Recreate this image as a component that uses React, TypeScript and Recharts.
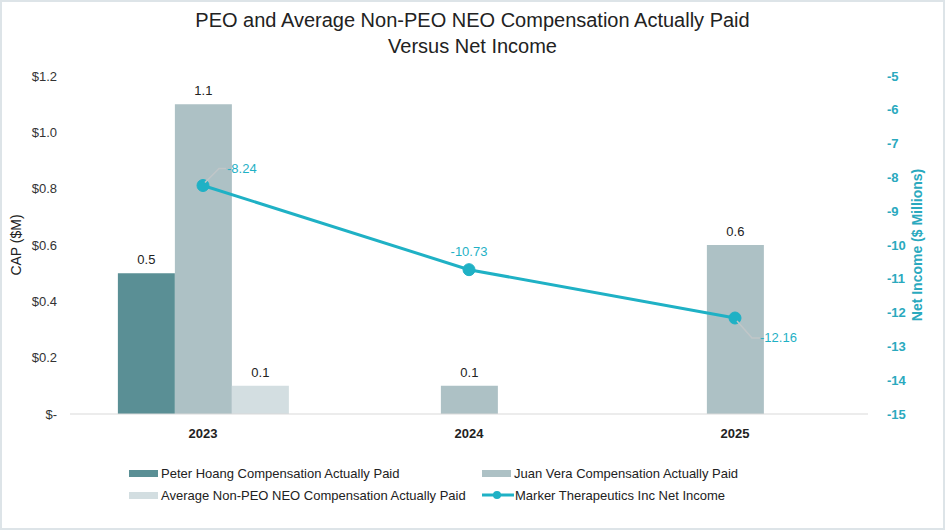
import React from "react";
import {
  ComposedChart,
  Bar,
  Line,
  XAxis,
  YAxis,
  LabelList,
  Legend,
} from "recharts";

const years = ["2023", "2024", "2025"];
const peterHoang = [0.5, null, null];
const juanVera = [1.1, 0.1, 0.6];
const avgNonPeo = [0.1, null, null];
const netIncome = [-8.24, -10.73, -12.16];
const leftTicks = [0, 0.2, 0.4, 0.6, 0.8, 1.0, 1.2];
const rightTicks = [-15, -14, -13, -12, -11, -10, -9, -8, -7, -6, -5];

const seriesNames = {
  peter: "Peter Hoang Compensation Actually Paid",
  juan: "Juan Vera Compensation Actually Paid",
  avg: "Average Non-PEO NEO Compensation Actually Paid",
  net: "Marker Therapeutics Inc Net Income",
};

const COLORS = {
  peter: "#5a8f95",
  juan: "#adc1c5",
  avg: "#d3dee1",
  net: "#1fb1c5",
  text: "#222222",
};

const data = years.map((y, i) => ({
  year: y,
  peter: peterHoang[i],
  juan: juanVera[i],
  avg: avgNonPeo[i],
  net: netIncome[i],
}));

// label placement style for the net income labels (leader lines)
const netLabelStyle = ["leaderUp", "above", "leaderDown"];

const FONT = "'Liberation Sans', Arial, Helvetica, sans-serif";

const fmtLeft = (v: number) => (v === 0 ? "$-" : `$${v.toFixed(1)}`);

const NetLabel = (props: any) => {
  const { x, y, value, index } = props;
  const style = netLabelStyle[index];
  const txt = value.toFixed(2);
  if (style === "above") {
    return (
      <text x={x} y={y - 14} textAnchor="middle" fill={COLORS.net} fontSize={13} fontFamily={FONT}>
        {txt}
      </text>
    );
  }
  if (style === "leaderUp") {
    return (
      <g>
        <polyline
          points={`${x + 2},${y - 3} ${x + 16},${y - 17} ${x + 23},${y - 17}`}
          fill="none"
          stroke="#c0c6c8"
          strokeWidth={1.5}
        />
        <text x={x + 24} y={y - 13} textAnchor="start" fill={COLORS.net} fontSize={13} fontFamily={FONT}>
          {txt}
        </text>
      </g>
    );
  }
  return (
    <g>
      <polyline
        points={`${x + 2},${y + 3} ${x + 17},${y + 20} ${x + 25},${y + 20}`}
        fill="none"
        stroke="#c0c6c8"
        strokeWidth={1.5}
      />
      <text x={x + 25} y={y + 24} textAnchor="start" fill={COLORS.net} fontSize={13} fontFamily={FONT}>
        {txt}
      </text>
    </g>
  );
};

const legendItems = [
  { key: "peter", type: "bar" },
  { key: "juan", type: "bar" },
  { key: "avg", type: "bar" },
  { key: "net", type: "line" },
];

const LegendContent = () => (
  <div
    style={{
      display: "grid",
      gridTemplateColumns: "353px 320px",
      rowGap: 6,
      fontFamily: FONT,
      fontSize: 13,
      color: COLORS.text,
      marginLeft: 129,
    }}
  >
    {legendItems.map((it) => {
      const k = it.key as keyof typeof COLORS;
      return (
        <div key={it.key} style={{ display: "flex", alignItems: "center", height: 16 }}>
          {it.type === "bar" ? (
            <span
              style={{
                display: "inline-block",
                width: 29,
                height: 7,
                background: COLORS[k],
                marginRight: 3,
              }}
            />
          ) : (
            <svg width={32} height={12} style={{ marginRight: 1 }}>
              <line x1={0} y1={6} x2={32} y2={6} stroke={COLORS.net} strokeWidth={3} />
              <circle cx={15} cy={6} r={4} fill={COLORS.net} />
            </svg>
          )}
          <span style={{ whiteSpace: "nowrap" }}>{(seriesNames as any)[it.key]}</span>
        </div>
      );
    })}
  </div>
);

export default function App() {
  return (
    <div
      style={{
        position: "fixed",
        left: 0,
        top: 0,
        width: 945,
        height: 530,
        background: "#ffffff",
        boxSizing: "border-box",
        border: "2px solid #dde4e8",
        fontFamily: FONT,
      }}
    >
      <div
        style={{
          position: "absolute",
          top: 5,
          left: 0,
          width: 941,
          textAlign: "center",
          fontSize: 20,
          lineHeight: "26px",
          color: COLORS.text,
        }}
      >
        PEO and Average Non-PEO NEO Compensation Actually Paid
        <br />
        Versus Net Income
      </div>
      <div style={{ position: "absolute", left: -2, top: -2 }}>
        <ComposedChart
          width={945}
          height={530}
          data={data}
          margin={{ top: 76, right: 0, bottom: 86, left: 0 }}
          barCategoryGap="18%"
          barGap={0}
        >
          <XAxis
            dataKey="year"
            axisLine={{ stroke: "#d9d9d9" }}
            tickLine={false}
            tickMargin={9}
            height={30}
            tick={{ fontSize: 13, fontWeight: 700, fill: COLORS.text, fontFamily: FONT }}
          />
          <YAxis
            yAxisId="left"
            orientation="left"
            width={70}
            domain={[0, 1.2]}
            ticks={leftTicks}
            tickFormatter={fmtLeft}
            axisLine={false}
            tickLine={false}
            tickMargin={7}
            tick={{ fontSize: 13, fill: "#333333", fontFamily: FONT }}
            label={{
              value: "CAP ($M)",
              angle: -90,
              position: "insideLeft",
              offset: 16,
              style: { fontSize: 14, fill: COLORS.text, fontFamily: FONT, textAnchor: "middle" },
            }}
          />
          <YAxis
            yAxisId="right"
            orientation="right"
            width={77}
            domain={[-15, -5]}
            ticks={rightTicks}
            axisLine={false}
            tickLine={false}
            tickMargin={13}
            tick={{ fontSize: 13, fill: "#2aa9be", fontWeight: 700, fontFamily: FONT }}
            label={{
              value: "Net Income ($ Millions)",
              angle: -90,
              position: "insideRight",
              offset: 28,
              style: { fontSize: 14, fill: "#2aa9be", fontWeight: 700, fontFamily: FONT, textAnchor: "middle" },
            }}
          />
          <Bar yAxisId="left" dataKey="peter" name={seriesNames.peter} fill={COLORS.peter} isAnimationActive={false}>
            <LabelList dataKey="peter" position="top" offset={9} fill={COLORS.text} fontSize={13} fontFamily={FONT} />
          </Bar>
          <Bar yAxisId="left" dataKey="juan" name={seriesNames.juan} fill={COLORS.juan} isAnimationActive={false}>
            <LabelList dataKey="juan" position="top" offset={9} fill={COLORS.text} fontSize={13} fontFamily={FONT} />
          </Bar>
          <Bar yAxisId="left" dataKey="avg" name={seriesNames.avg} fill={COLORS.avg} isAnimationActive={false}>
            <LabelList dataKey="avg" position="top" offset={9} fill={COLORS.text} fontSize={13} fontFamily={FONT} />
          </Bar>
          <Line
            yAxisId="right"
            dataKey="net"
            name={seriesNames.net}
            stroke={COLORS.net}
            strokeWidth={3}
            dot={{ r: 6, fill: COLORS.net, stroke: COLORS.net, strokeWidth: 1 }}
            activeDot={false}
            isAnimationActive={false}
          >
            <LabelList dataKey="net" content={NetLabel} />
          </Line>
          <Legend
            layout="horizontal"
            verticalAlign="middle"
            align="center"
            wrapperStyle={{ top: 465, left: 0, width: 945 }}
            content={LegendContent}
          />
        </ComposedChart>
      </div>
    </div>
  );
}
